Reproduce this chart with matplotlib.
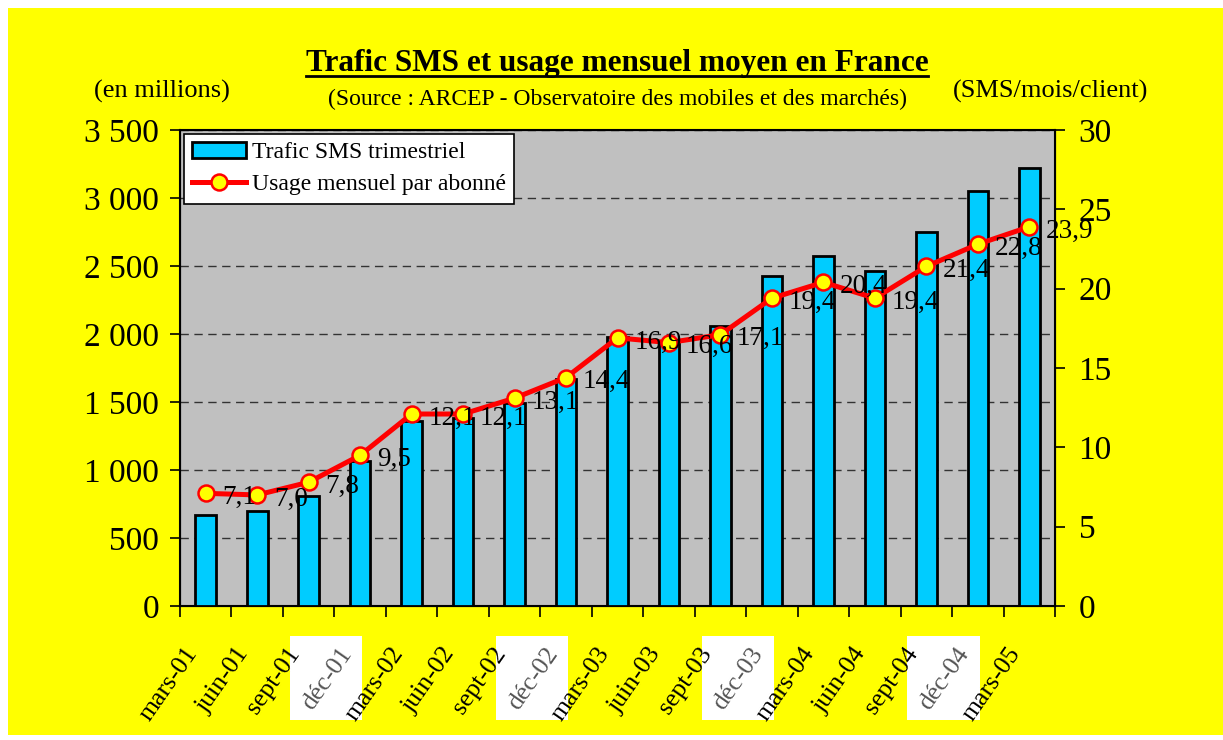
import matplotlib.pyplot as plt
import matplotlib.transforms as mtransforms
import numpy as np
from matplotlib.patches import Rectangle
from matplotlib.lines import Line2D

plt.rcParams['font.family'] = ['Liberation Serif', 'DejaVu Serif']

# trimestres
mois = ['mars-01', 'juin-01', 'sept-01', 'déc-01', 'mars-02', 'juin-02', 'sept-02', 'déc-02',
        'mars-03', 'juin-03', 'sept-03', 'déc-03', 'mars-04', 'juin-04', 'sept-04', 'déc-04', 'mars-05']
# trafic SMS trimestriel (en millions)
trafic = [670, 700, 810, 1065, 1360, 1380, 1490, 1670, 1975, 1950, 2060, 2430, 2575, 2465, 2750, 3050, 3220]
# usage mensuel par abonné (SMS/mois/client)
usage = [7.1, 7.0, 7.8, 9.5, 12.1, 12.1, 13.1, 14.4, 16.9, 16.6, 17.1, 19.4, 20.4, 19.4, 21.4, 22.8, 23.9]

W, H = 1223, 740
fig = plt.figure(figsize=(W / 100, H / 100), dpi=100, facecolor='white')
fig.patches.append(Rectangle((8 / W, 5 / H), 1 - 8 / W, 1 - 13 / H, transform=fig.transFigure,
                             facecolor='#FFFF00', edgecolor='none', zorder=-10))

ax = fig.add_axes([180 / W, 1 - 606 / H, 875 / W, 476 / H])
ax.set_facecolor('#C0C0C0')
x = np.arange(len(mois))
barres = ax.bar(x, trafic, width=0.4, color='#00CCFF', edgecolor='black', linewidth=2, zorder=3)
ax.set_xlim(-0.5, len(mois) - 0.5)
ax.set_ylim(0, 3500)
ax.set_yticks(range(0, 3501, 500))
ax.set_yticklabels(['0', '500', '1 000', '1 500', '2 000', '2 500', '3 000', '3 500'], fontsize=24)
ax.yaxis.grid(True, linestyle=(0, (6, 4)), color='#333333', linewidth=1, zorder=1)
ax.tick_params(axis='y', length=7, width=1.2, pad=8)

ax.set_xticks(x)
ax.set_xticklabels(mois, rotation=55, ha='right', va='top', fontsize=18.5)
ax.tick_params(axis='x', length=0, pad=27)
ax.set_xticks(np.arange(-0.5, len(mois), 1), minor=True)
ax.tick_params(axis='x', which='minor', length=8, width=1.2)
decal = mtransforms.ScaledTranslation(-4 / 100, 0, fig.dpi_scale_trans)
for lab in ax.get_xticklabels():
    lab.set_transform(lab.get_transform() + decal)
    if lab.get_text().startswith('déc'):
        lab.set_color('#555555')
for s in ax.spines.values():
    s.set_linewidth(1.5)

ax2 = ax.twinx()
ligne, = ax2.plot(x, usage, color='#FF0000', linewidth=3.6, marker='o', markersize=11.5,
                  markerfacecolor='#FFFF00', markeredgecolor='#FF0000', markeredgewidth=1.8, zorder=5)
ax2.set_ylim(0, 30)
ax2.set_yticks(range(0, 31, 5))
ax2.tick_params(axis='y', labelsize=24, length=7, width=1.2, pad=10)
for xi, v in zip(x, usage):
    ax2.annotate(f'{v:.1f}'.replace('.', ','), (xi, v), xytext=(12, -3), textcoords='offset points',
                 ha='left', va='center', fontsize=19.5, zorder=6)

leg = ax2.legend([barres, ligne], ['Trafic SMS trimestriel', 'Usage mensuel par abonné'],
                 loc='upper left', bbox_to_anchor=(0.0, 1.0), borderaxespad=0.15, fontsize=17,
                 fancybox=False, framealpha=1, edgecolor='black', handlelength=2.3,
                 handletextpad=0.25, borderpad=0.35, labelspacing=0.45)
leg.get_frame().set_linewidth(1.2)
leg.set_zorder(10)

titre = fig.text(617 / W, 1 - 63 / H, 'Trafic SMS et usage mensuel moyen en France',
                 ha='center', va='center', fontsize=22.5, fontweight='bold')
fig.text(617 / W, 1 - 99 / H, '(Source : ARCEP - Observatoire des mobiles et des marchés)',
         ha='center', va='center', fontsize=17)
fig.text(162 / W, 1 - 91 / H, '(en millions)', ha='center', va='center', fontsize=19)
fig.text(1051 / W, 1 - 91 / H, '(SMS/mois/client)', ha='center', va='center', fontsize=19)

fig.canvas.draw()
bb = titre.get_window_extent()
fig.add_artist(Line2D([bb.x0 / W, bb.x1 / W], [(bb.y0 + 2) / H, (bb.y0 + 2) / H],
                      transform=fig.transFigure, color='black', linewidth=2))
# fonds blancs des étiquettes "déc"
for lab in ax.get_xticklabels():
    if lab.get_text().startswith('déc'):
        e = lab.get_window_extent()
        fig.patches.append(Rectangle(((e.x0 - 8) / W, (e.y0 - 6) / H), (e.width + 14) / W,
                                     (e.height + 14) / H, transform=fig.transFigure,
                                     facecolor='white', edgecolor='none', zorder=-5))

fig.savefig('out.png', dpi=100, facecolor=fig.get_facecolor())
